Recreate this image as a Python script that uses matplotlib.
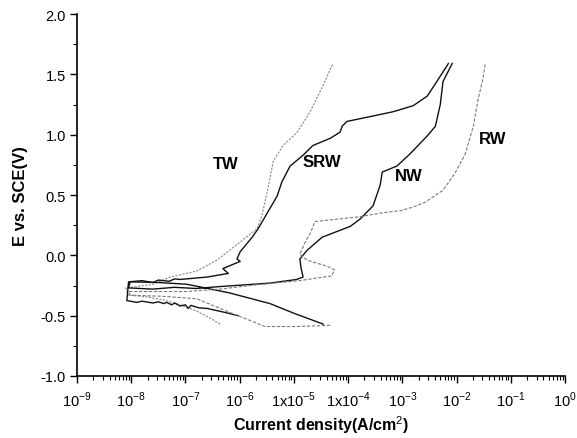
import matplotlib
matplotlib.use('Agg')
import matplotlib.pyplot as plt
import numpy as np
from matplotlib.ticker import FixedLocator, LogLocator, NullFormatter

plt.rcParams['font.family'] = ['Liberation Sans', 'DejaVu Sans']
plt.rcParams['mathtext.fontset'] = 'custom'
plt.rcParams['mathtext.rm'] = 'Liberation Sans'

# polarization curves: log10(i) and E (V vs SCE)
# each one runs from the cathodic start, through the nose, up the anodic branch
tw_logi = [-6.36, -6.55, -6.8, -7.1, -7.4, -7.7, -8.05, -8.1, -7.6, -7.28, -6.79,
           -6.42, -5.99, -5.68, -5.59, -5.48, -5.38, -5.20, -4.94, -4.70, -4.46, -4.28]
tw_e = [-0.57, -0.52, -0.46, -0.41, -0.37, -0.345, -0.33, -0.27, -0.24, -0.18, -0.13,
        -0.04, 0.11, 0.22, 0.33, 0.55, 0.78, 0.91, 1.02, 1.19, 1.41, 1.59]

srw_logi = [-6.03, -6.3, -6.6, -6.75, -6.9, -6.95, -7.0, -7.1, -7.2, -7.25, -7.35,
            -7.4, -7.5, -7.6, -7.8, -7.9, -8.08,
            -8.05, -7.8, -7.6, -7.5, -7.3, -7.2, -7.1, -6.85, -6.6, -6.21, -6.31,
            -5.99, -6.05, -5.99, -5.77, -5.66, -5.48, -5.31, -5.22, -5.07, -4.83,
            -4.65, -4.33, -4.15, -4.11, -4.02, -3.59, -3.17, -2.80, -2.54, -2.35, -2.15]
srw_e = [-0.50, -0.47, -0.44, -0.435, -0.415, -0.44, -0.41, -0.42, -0.395, -0.41, -0.39,
         -0.40, -0.385, -0.395, -0.38, -0.39, -0.375,
         -0.22, -0.21, -0.225, -0.205, -0.215, -0.195, -0.20, -0.19, -0.18, -0.15, -0.11,
         -0.05, -0.03, 0.03, 0.15, 0.22, 0.36, 0.49, 0.61, 0.74, 0.83,
         0.91, 0.97, 1.02, 1.07, 1.11, 1.15, 1.19, 1.24, 1.32, 1.45, 1.59]

nw_logi = [-4.46, -5.0, -5.44, -6.2, -6.97, -7.5, -8.02, -8.05, -7.6, -7.2, -6.8, -6.4,
           -5.44, -4.95, -4.83, -4.87, -4.89, -4.76, -4.48, -3.96, -3.78, -3.54, -3.41,
           -3.37, -3.10, -2.86, -2.54, -2.39, -2.30, -2.25, -2.08]
nw_e = [-0.57, -0.48, -0.40, -0.31, -0.24, -0.225, -0.22, -0.27, -0.28, -0.265, -0.275, -0.26,
        -0.23, -0.20, -0.18, -0.10, -0.03, 0.04, 0.15, 0.24, 0.30, 0.41, 0.58,
        0.69, 0.74, 0.84, 0.99, 1.07, 1.25, 1.44, 1.59]

rw_logi = [-4.33, -4.94, -5.53, -6.2, -6.79, -7.4, -8.02, -8.05, -7.0, -6.36, -5.81,
           -4.9, -4.3, -4.25, -4.39, -4.76, -4.89, -4.78, -4.70, -4.61, -4.2, -3.78,
           -3.41, -3.04, -2.80, -2.58, -2.25, -2.03, -1.84, -1.69, -1.60, -1.52, -1.47]
rw_e = [-0.58, -0.59, -0.59, -0.47, -0.36, -0.34, -0.33, -0.30, -0.30, -0.28, -0.25,
        -0.21, -0.17, -0.12, -0.09, -0.04, 0.01, 0.12, 0.18, 0.28, 0.30, 0.32,
        0.35, 0.37, 0.40, 0.44, 0.54, 0.68, 0.84, 1.07, 1.30, 1.45, 1.59]

labels = ['TW', 'SRW', 'NW', 'RW']
label_logi = [-6.25, -4.48, -2.89, -1.34]
label_e = [0.76, 0.78, 0.66, 0.97]

x_ticks = [1e-9, 1e-8, 1e-7, 1e-6, 1e-5, 1e-4, 1e-3, 1e-2, 1e-1, 1e0]
x_ticklabels = ['10$^{-9}$', '10$^{-8}$', '10$^{-7}$', '10$^{-6}$', '1x10$^{-5}$',
                '1x10$^{-4}$', '10$^{-3}$', '10$^{-2}$', '10$^{-1}$', '10$^{0}$']

fig = plt.figure(figsize=(5.77, 4.39), dpi=100)
ax = fig.add_axes([77 / 577, 1 - 377 / 439, 488 / 577, 362 / 439])

ax.plot(10 ** np.array(tw_logi), tw_e, color='#8a8a8a', lw=0.8, ls=(0, (2, 1.2)))
ax.plot(10 ** np.array(srw_logi), srw_e, color='#111111', lw=1.0)
ax.plot(10 ** np.array(nw_logi), nw_e, color='#111111', lw=1.0)
ax.plot(10 ** np.array(rw_logi), rw_e, color='#7a7a7a', lw=0.8, ls=(0, (3, 1.5)))

for name, lx, ly in zip(labels, label_logi, label_e):
    ax.text(10 ** lx, ly, name, fontsize=12, fontweight='bold', ha='center', va='center')

ax.set_xscale('log')
ax.set_xlim(1e-9, 1e0)
ax.set_ylim(-1.0, 2.0)
ax.xaxis.set_major_locator(FixedLocator(x_ticks))
ax.set_xticklabels(x_ticklabels)
ax.xaxis.set_minor_locator(LogLocator(base=10, subs=np.arange(2, 10), numticks=20))
ax.xaxis.set_minor_formatter(NullFormatter())
ax.set_yticks([-1.0, -0.5, 0.0, 0.5, 1.0, 1.5, 2.0])
ax.set_yticklabels(['-1.0', '-0.5', '0.0', '0.5', '1.0', '1.5', '2.0'])
ax.set_yticks(np.arange(-0.75, 2.0, 0.5), minor=True)

for side in ['top', 'right']:
    ax.spines[side].set_visible(False)
for side in ['left', 'bottom']:
    ax.spines[side].set_linewidth(1.2)
ax.tick_params(which='major', direction='out', length=5, width=1.0, labelsize=10.5, pad=3)
ax.tick_params(which='minor', direction='out', length=3, width=0.8)
ax.tick_params(axis='x', which='major', pad=5)

ax.set_xlabel('Current density(A/cm$^{2}$)', fontsize=11.5, fontweight='bold', labelpad=3)
ax.set_ylabel('E vs. SCE(V)', fontsize=12, fontweight='bold', labelpad=9)

fig.savefig('out.png', dpi=100)
